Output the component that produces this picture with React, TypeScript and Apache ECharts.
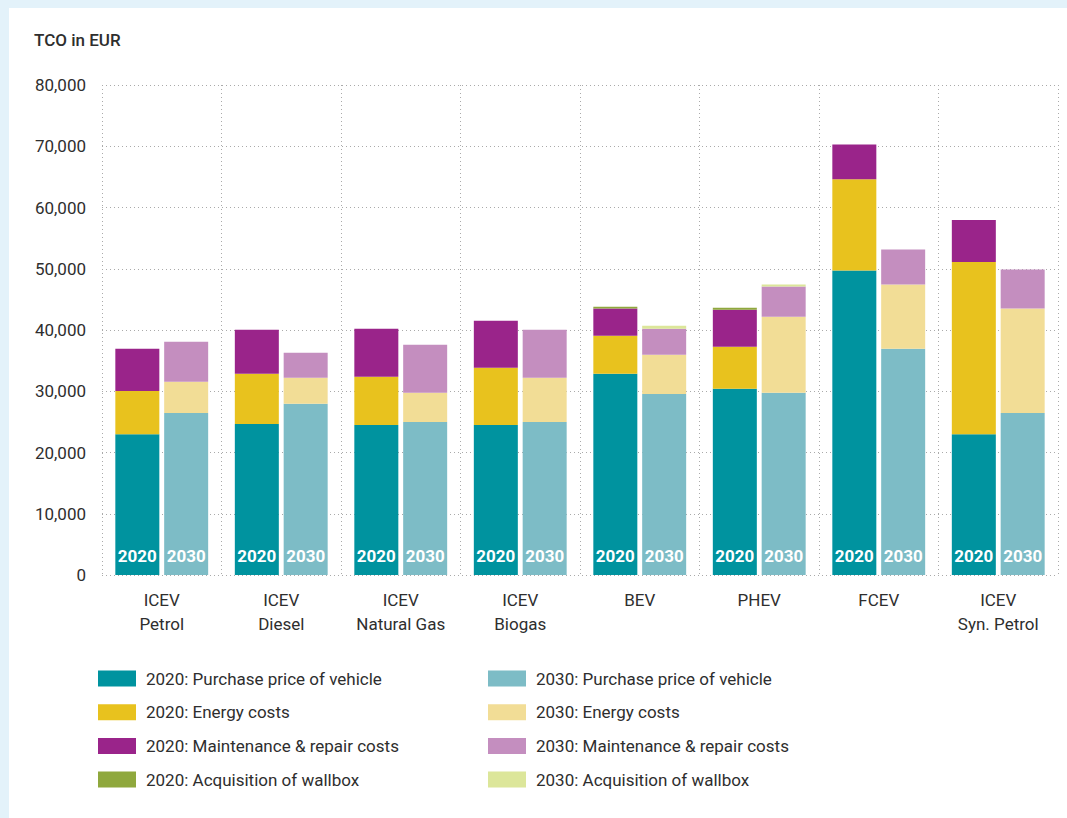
import React, { useEffect, useRef } from "react";
import * as echarts from "echarts";

const categories = [
  "ICEV\nPetrol",
  "ICEV\nDiesel",
  "ICEV\nNatural Gas",
  "ICEV\nBiogas",
  "BEV",
  "PHEV",
  "FCEV",
  "ICEV\nSyn. Petrol",
];

const purchase2020 = [23000, 24650, 24500, 24500, 32850, 30400, 49700, 23000];
const energy2020 = [7050, 8200, 7850, 9330, 6220, 6870, 14900, 28100];
const maint2020 = [6880, 7200, 7860, 7690, 4420, 6050, 5670, 6870];
const wallbox2020 = [null, null, null, null, 320, 330, null, null];

const purchase2030 = [26460, 27950, 25000, 25000, 29570, 29740, 36940, 26460];
const energy2030 = [5080, 4250, 4750, 7200, 6390, 12440, 10480, 17030];
const maint2030 = [6550, 4080, 7860, 7860, 4250, 4910, 5730, 6380];
const wallbox2030 = [null, null, null, null, 490, 330, null, null];

const yTicks = { min: 0, max: 80000, interval: 10000 };

const names2020 = [
  "2020: Purchase price of vehicle",
  "2020: Energy costs",
  "2020: Maintenance & repair costs",
  "2020: Acquisition of wallbox",
];
const names2030 = [
  "2030: Purchase price of vehicle",
  "2030: Energy costs",
  "2030: Maintenance & repair costs",
  "2030: Acquisition of wallbox",
];

const colors2020 = ["#00939f", "#e8c21e", "#9a248a", "#8fa83d"];
const colors2030 = ["#7dbcc6", "#f2dd96", "#c48ebf", "#dce69a"];

const FONT = "Roboto, 'DejaVu Sans', sans-serif";
const TEXT = "#2e2e2e";

export default function App() {
  const ref = useRef<HTMLDivElement>(null);

  useEffect(() => {
    if (!ref.current) return;
    const chart = echarts.init(ref.current, undefined, { renderer: "svg" });

    const data2020 = [purchase2020, energy2020, maint2020, wallbox2020];
    const data2030 = [purchase2030, energy2030, maint2030, wallbox2030];

    const mk = (name: string, data: any[], color: string, stack: string, year: string, first: boolean) => ({
      name,
      type: "bar",
      stack,
      data,
      barWidth: 44,
      barGap: "11%",
      itemStyle: { color },
      label: first
        ? {
            show: true,
            position: "insideBottom",
            distance: 11,
            formatter: year,
            color: "#ffffff",
            fontSize: 17,
            fontWeight: "bold",
            fontFamily: FONT,
          }
        : { show: false },
      emphasis: { disabled: true },
    });

    const series: any[] = [];
    data2020.forEach((d, i) => series.push(mk(names2020[i], d, colors2020[i], "y2020", "2020", i === 0)));
    data2030.forEach((d, i) => series.push(mk(names2030[i], d, colors2030[i], "y2030", "2030", i === 0)));

    const legendBase = {
      orient: "vertical",
      top: 670,
      padding: 0,
      itemWidth: 38,
      itemHeight: 16,
      itemGap: 16.7,
      icon: "rect",
      selectedMode: false,
      textStyle: {
        color: TEXT,
        fontSize: 17,
        fontFamily: FONT,
        lineHeight: 16,
        padding: [0, 0, 0, 5],
      },
    };

    chart.setOption({
      animation: false,
      backgroundColor: "#ffffff",
      textStyle: { fontFamily: FONT },
      graphic: [
        { type: "rect", left: 0, top: 0, shape: { width: 1067, height: 8 }, style: { fill: "#e3f2fa" } },
        { type: "rect", left: 0, top: 0, shape: { width: 9, height: 818 }, style: { fill: "#e3f2fa" } },
        {
          type: "text",
          left: 34,
          top: 31,
          style: { text: "TCO in EUR", fill: TEXT, fontSize: 17, fontWeight: 500, fontFamily: FONT },
        },
      ],
      legend: [
        { ...legendBase, left: 98, data: names2020 },
        { ...legendBase, left: 488, data: names2030 },
      ],
      grid: { left: 102, right: 9, top: 85, bottom: 243, containLabel: false },
      xAxis: {
        type: "category",
        data: categories,
        axisLine: { show: false },
        axisTick: { show: false },
        axisLabel: {
          color: TEXT,
          fontSize: 17,
          fontFamily: FONT,
          lineHeight: 24,
          margin: 13,
          interval: 0,
        },
        splitLine: {
          show: true,
          interval: 0,
          lineStyle: { color: "#aaaaaa", type: [1, 3], width: 1 },
        },
      },
      yAxis: {
        type: "value",
        min: yTicks.min,
        max: yTicks.max,
        interval: yTicks.interval,
        axisLine: { show: false },
        axisTick: { show: false },
        axisLabel: {
          color: TEXT,
          fontSize: 17,
          fontFamily: FONT,
          margin: 16,
          formatter: (v: number) => v.toLocaleString("en-US"),
        },
        splitLine: {
          show: true,
          lineStyle: { color: "#aaaaaa", type: [1, 3], width: 1 },
        },
      },
      series,
    });

    return () => chart.dispose();
  }, []);

  return (
    <div
      ref={ref}
      style={{ position: "absolute", left: 0, top: 0, width: 1067, height: 818 }}
    />
  );
}
